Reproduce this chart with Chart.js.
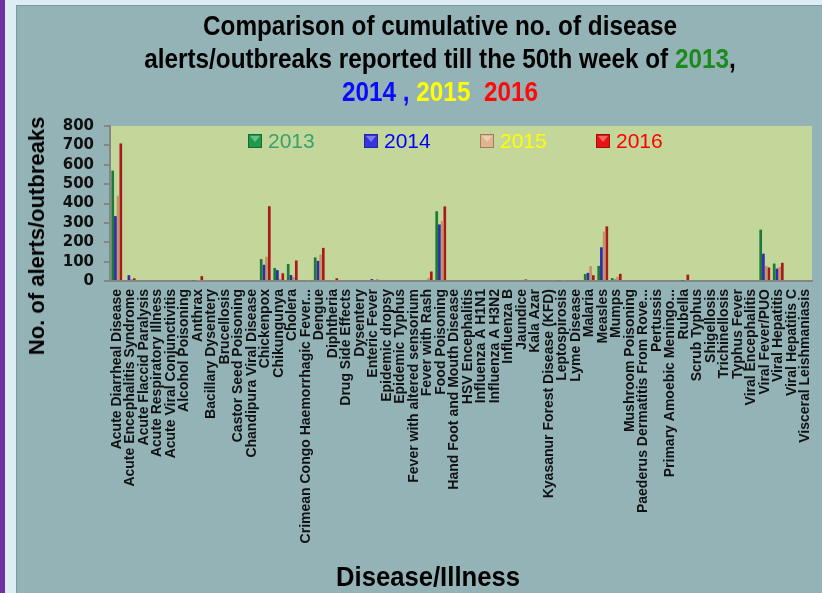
<!DOCTYPE html>
<html lang="en">
<head>
  <meta charset="UTF-8">
  <title>Disease alerts/outbreaks</title>
  <script src="https://cdn.jsdelivr.net/npm/chart.js"></script>
  <style>
    body { margin: 0; overflow: hidden; background: #94b3b7; }
    #wrap { position: relative; width: 822px; height: 593px; overflow: hidden; }
    #purple { position: absolute; left: 0; top: 0; width: 5px; height: 593px; background: #7030a0; }
    #lstrip { position: absolute; left: 5px; top: 0; width: 11px; height: 593px; background: #dceef3; }
    #tstrip { position: absolute; left: 5px; top: 0; width: 817px; height: 5px; background: #dceef3; }
    #panel { position: absolute; left: 16px; top: 5px; right: 0; bottom: 0; background: #94b3b7;
             border-left: 1px solid #7a9a9e; border-top: 1px solid #7a9a9e; }
    canvas { position: absolute; left: 0; top: 0; }
    #title { position: absolute; left: 0; top: 10px; width: 880px; text-align: center;
             font: bold 27px "Liberation Sans", Arial, sans-serif; line-height: 33px; color: #000;
             transform: scaleX(0.9); transform-origin: 440px 0; white-space: nowrap; }
    #ytitle { position: absolute; left: 37px; top: 236px; transform: translate(-50%, -50%) rotate(-90deg);
              font: bold 22px "Liberation Sans", Arial, sans-serif; white-space: nowrap; color: #000; }
    #xtitle { position: absolute; left: 428px; top: 577px; transform: translate(-50%, -50%) scaleX(0.95);
              font: bold 27px "Liberation Sans", Arial, sans-serif; white-space: nowrap; color: #000; }
  </style>
</head>
<body>
  <div id="wrap">
    <div id="purple"></div>
    <div id="lstrip"></div>
    <div id="tstrip"></div>
    <div id="panel"></div>
    <canvas id="chart" width="822" height="593"></canvas>
    <div id="title">Comparison of cumulative no. of disease<br>alerts/outbreaks reported till the 50th week of <span style="color:#1c8a1c">2013</span>,<br><span style="color:#0a0aff">2014 ,</span> <span style="color:#ffff00">2015</span>&nbsp; <span style="color:#ff0a0a">2016</span></div>
    <div id="ytitle">No. of alerts/outbreaks</div>
    <div id="xtitle">Disease/Illness</div>
  </div>

  <script>
    const diseases = [
      'Acute Diarrheal Disease', 'Acute Encephalitis Syndrome', 'Acute Flaccid Paralysis',
      'Acute Respiratory Illness', 'Acute Viral Conjunctivitis', 'Alcohol Poisoning', 'Anthrax',
      'Bacillary Dysentery', 'Brucellosis', 'Castor Seed Poisoning', 'Chandipura Viral Disease',
      'Chickenpox', 'Chikungunya', 'Cholera', 'Crimean Congo Haemorrhagic Fever...', 'Dengue',
      'Diphtheria', 'Drug Side Effects', 'Dysentery', 'Enteric Fever', 'Epidemic dropsy',
      'Epidemic Typhus', 'Fever with altered sensorium', 'Fever with Rash', 'Food Poisoning',
      'Hand Foot and Mouth Disease', 'HSV Encephalitis', 'Influenza A H1N1', 'Influenza A H3N2',
      'Influenza B', 'Jaundice', 'Kala Azar', 'Kyasanur Forest Disease (KFD)', 'Leptospirosis',
      'Lyme Disease', 'Malaria', 'Measles', 'Mumps', 'Mushroom Poisoning',
      'Paederus Dermatitis From Rove...', 'Pertussis', 'Primary Amoebic Meningo...', 'Rubella',
      'Scrub Typhus', 'Shigellosis', 'Trichinellosis', 'Typhus Fever', 'Viral Encephalitis',
      'Viral Fever/PUO', 'Viral Hepatitis', 'Viral Hepatitis C', 'Visceral Leishmaniasis'
    ];

    const years = ['2013', '2014', '2015', '2016'];

    const y2013 = [570, 5, 0, 0, 0, 0, 3, 0, 0, 0, 0, 113, 67, 88, 0, 122, 0, 0, 0, 0, 0, 0, 0, 0, 360,
                   0, 0, 0, 0, 0, 0, 0, 0, 4, 0, 36, 78, 15, 0, 0, 0, 0, 0, 0, 0, 0, 0, 0, 265, 90, 0, 0];
    const y2014 = [335, 30, 0, 0, 0, 0, 0, 0, 0, 0, 0, 84, 56, 31, 0, 104, 0, 0, 0, 10, 0, 0, 0, 0, 292,
                   0, 0, 0, 0, 0, 0, 0, 0, 0, 0, 42, 174, 7, 0, 0, 0, 0, 3, 0, 0, 0, 0, 0, 141, 64, 0, 0];
    const y2015 = [440, 10, 0, 0, 0, 0, 2, 0, 0, 0, 0, 125, 12, 20, 3, 136, 3, 0, 5, 5, 0, 0, 0, 15, 310,
                   0, 0, 0, 0, 0, 6, 0, 0, 3, 0, 77, 255, 22, 0, 0, 0, 0, 5, 0, 0, 0, 0, 0, 78, 73, 0, 0];
    const y2016 = [710, 14, 0, 0, 0, 0, 25, 0, 0, 0, 0, 386, 40, 106, 0, 171, 14, 0, 0, 7, 0, 0, 0, 49, 385,
                   0, 0, 0, 0, 0, 8, 0, 0, 0, 0, 30, 282, 37, 0, 0, 0, 0, 33, 0, 0, 0, 0, 0, 70, 94, 0, 0];

    const barColors = ['#1d7a3a', '#2e2eaa', '#c4936b', '#aa1a1a'];
    const markerColors = ['#1f9a4a', '#3535dd', '#e2b48e', '#e81414'];
    const legendTextColors = ['#3aa070', '#0000ff', '#ffff00', '#ff0000'];

    // light green plot background
    const plotBg = {
      id: 'plotBg',
      beforeDraw(chart) {
        const { ctx, chartArea: a } = chart;
        ctx.save();
        ctx.fillStyle = '#c4d79b';
        ctx.fillRect(a.left, a.top, a.right - a.left, a.bottom - a.top);
        ctx.restore();
      }
    };

    // legend sits inside the plot area, spread wide
    const insideLegend = {
      id: 'insideLegend',
      afterDraw(chart) {
        const ctx = chart.ctx;
        ctx.save();
        chart.data.datasets.forEach((ds, i) => {
          const x = 248 + i * 116, y = 134;
          ctx.fillStyle = markerColors[i];
          ctx.fillRect(x, y, 14, 14);
          ctx.fillStyle = 'rgba(255,255,255,0.35)';
          ctx.beginPath();
          ctx.moveTo(x + 2, y + 2); ctx.lineTo(x + 12, y + 2); ctx.lineTo(x + 7, y + 8);
          ctx.closePath(); ctx.fill();
          ctx.strokeStyle = 'rgba(0,0,0,0.3)';
          ctx.lineWidth = 1;
          ctx.strokeRect(x + 0.5, y + 0.5, 13, 13);
          ctx.font = '21px "Liberation Sans", Arial, sans-serif';
          ctx.fillStyle = legendTextColors[i];
          ctx.textBaseline = 'middle';
          ctx.fillText(ds.label, x + 20, y + 8);
        });
        ctx.restore();
      }
    };

    const series = [y2013, y2014, y2015, y2016];

    new Chart(document.getElementById('chart'), {
      type: 'bar',
      data: {
        labels: diseases,
        datasets: years.map((yr, i) => ({
          label: yr,
          data: series[i],
          backgroundColor: barColors[i],
          categoryPercentage: 0.8,
          barPercentage: 1
        }))
      },
      options: {
        responsive: false,
        animation: false,
        layout: { padding: { left: 0, right: 10, top: 126, bottom: 0 } },
        plugins: {
          legend: { display: false },
          tooltip: { enabled: false }
        },
        scales: {
          x: {
            grid: { display: false, drawTicks: false },
            border: { display: true, color: '#868686', width: 2 },
            ticks: {
              autoSkip: false, maxRotation: 90, minRotation: 90, padding: 8,
              color: '#111', font: { family: '"Liberation Sans", Arial, sans-serif', size: 14, weight: 'bold' }
            },
            afterFit: s => { s.height = 312; s.paddingLeft = 0; s.paddingRight = 0; }
          },
          y: {
            min: 0, max: 800,
            grid: { drawOnChartArea: false, drawTicks: true, tickLength: 6, color: '#868686', lineWidth: 2 },
            border: { display: true, color: '#868686', width: 2 },
            ticks: {
              stepSize: 100, autoSkip: false, padding: 10, color: '#111',
              font: { family: '"DejaVu Sans", sans-serif', size: 15, weight: 'bold' }
            },
            afterFit: s => { s.width = 110; s.paddingTop = 0; s.paddingBottom = 0; }
          }
        }
      },
      plugins: [plotBg, insideLegend]
    });
  </script>
</body>
</html>
